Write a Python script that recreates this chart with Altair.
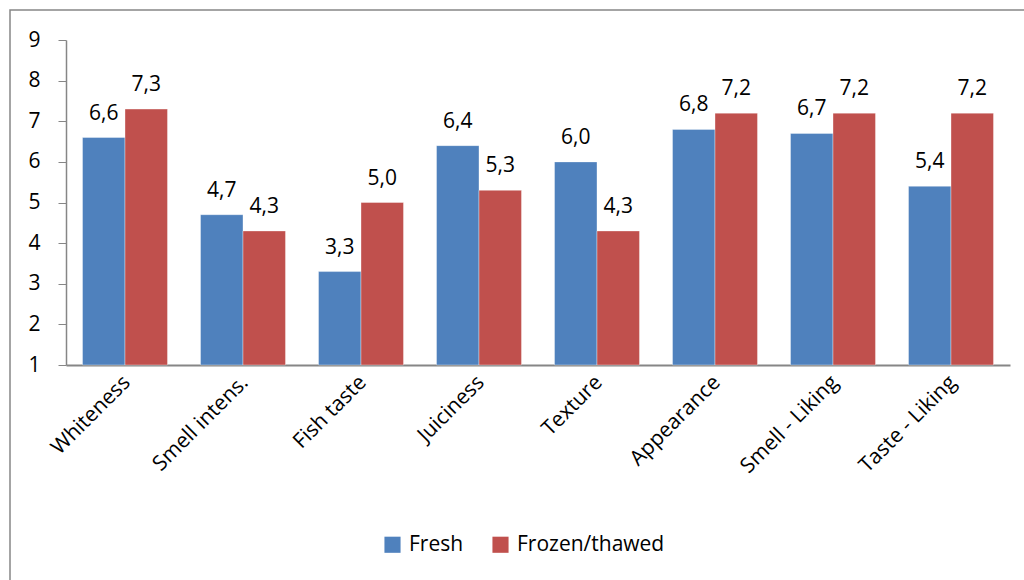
import altair as alt
import pandas as pd

# Sensory attributes and mean panel scores
attributes = ["Whiteness", "Smell intens.", "Fish taste", "Juiciness",
              "Texture", "Appearance", "Smell - Liking", "Taste - Liking"]
fresh = [6.6, 4.7, 3.3, 6.4, 6.0, 6.8, 6.7, 5.4]
frozen = [7.3, 4.3, 5.0, 5.3, 4.3, 7.2, 7.2, 7.2]
series = ["Fresh", "Frozen/thawed"]
y_ticks = [1, 2, 3, 4, 5, 6, 7, 8, 9]

rows = []
for a, f, z in zip(attributes, fresh, frozen):
    rows.append({"attribute": a, "series": series[0], "score": f})
    rows.append({"attribute": a, "series": series[1], "score": z})
df = pd.DataFrame(rows)
df["label"] = df["score"].map(lambda v: f"{v:.1f}".replace(".", ","))
df["base"] = 1

FONT = "Open Sans"
FS = 21
W, H = 944, 325
PAD_L, PAD_T = 66, 40

x_enc = alt.X("attribute:N", sort=attributes,
              scale=alt.Scale(paddingInner=0.28, paddingOuter=0.14),
              axis=alt.Axis(title=None, labelAngle=-45, labelAlign="right",
                            labelBaseline="middle", labelFontSize=FS,
                            labelFont=FONT, labelColor="black", ticks=False,
                            domainColor="#868686", domainWidth=2,
                            labelPadding=14, labelOffset=2))
xoff = alt.XOffset("series:N", sort=series)
y_scale = alt.Scale(domain=[1, 9], nice=False, zero=False)

bars = alt.Chart(df).mark_bar(stroke="white", strokeWidth=0.6, strokeOpacity=0.6).encode(
    x=x_enc,
    xOffset=xoff,
    y=alt.Y("score:Q", scale=y_scale,
            axis=alt.Axis(title=None, values=y_ticks, grid=False,
                          labelFontSize=FS, labelFont=FONT, labelColor="black",
                          tickSize=8, tickColor="#868686", domainColor="#868686",
                          domainWidth=1.5, labelPadding=18)),
    y2="base:Q",
    color=alt.Color("series:N", sort=series,
                    scale=alt.Scale(domain=series, range=["#4F81BD", "#C0504D"]),
                    legend=alt.Legend(title=None, orient="none",
                                      legendX=316, legendY=494,
                                      direction="horizontal", symbolType="square",
                                      symbolSize=260, symbolStrokeWidth=0,
                                      labelFontSize=FS, labelFont=FONT,
                                      labelColor="black", columnPadding=26,
                                      labelOffset=6)),
)

labels = alt.Chart(df).mark_text(baseline="alphabetic", dy=-18, fontSize=FS,
                                 font=FONT, color="black").encode(
    x=alt.X("attribute:N", sort=attributes),
    xOffset=xoff,
    y=alt.Y("score:Q", scale=y_scale),
    text="label:N",
)

# Outer chart frame
frame = alt.Chart(pd.DataFrame({"k": [0]})).mark_rect(
    fill=None, stroke="#868686", strokeWidth=1.5
).encode(
    x=alt.value(10 - PAD_L), x2=alt.value(1060 - PAD_L),
    y=alt.value(10 - PAD_T), y2=alt.value(620 - PAD_T),
)

chart = alt.layer(frame, bars, labels).properties(
    width=W, height=H,
    autosize=alt.AutoSizeParams(type="none"),
    padding={"left": PAD_L, "top": PAD_T, "right": 1024 - PAD_L - W,
             "bottom": 580 - PAD_T - H},
).configure_view(stroke=None)

chart.save("out.html", embed_options={"renderer": "svg", "actions": False})
